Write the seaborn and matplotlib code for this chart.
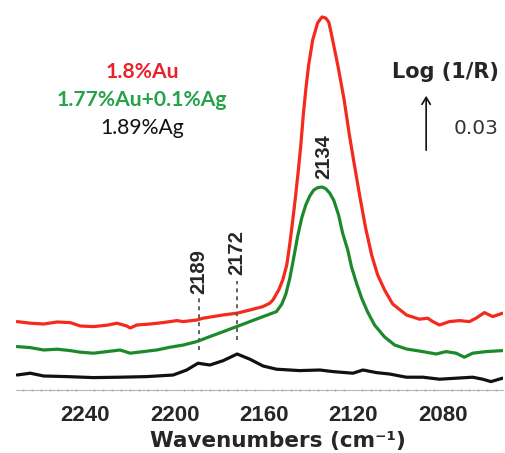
import numpy as np
import pandas as pd
import matplotlib
matplotlib.use("Agg")
import matplotlib.pyplot as plt
import seaborn as sns

# DRIFT spectra of adsorbed CO (Log(1/R), offset for clarity)
wn_au = [2270.5, 2264.6, 2258.6, 2252.6, 2246.7, 2242.2, 2236.3, 2230.3, 2225.8, 2221.4,
         2219.9, 2216.9, 2211.0, 2205.2, 2199.0, 2196.2, 2190.0, 2187.3, 2182.8, 2178.4,
         2172.1, 2166.3, 2160.5, 2157.4, 2156.0, 2153.4, 2151.6, 2149.8, 2148.5, 2147.1,
         2145.8, 2144.6, 2143.5, 2142.4, 2141.3, 2140.0, 2138.2, 2136.0, 2134.6, 2134.0,
         2132.4, 2131.0, 2129.9, 2126.8, 2124.1, 2121.9, 2119.9, 2117.2, 2114.5, 2111.8,
         2109.1, 2106.0, 2102.4, 2096.2, 2090.4, 2086.7, 2084.4, 2081.4, 2077.0, 2072.5,
         2068.0, 2065.1, 2061.3, 2057.6, 2053.2]
ab_au = [0.0342, 0.0334, 0.0330, 0.0340, 0.0337, 0.0320, 0.0317, 0.0324, 0.0334, 0.0320,
         0.0310, 0.0325, 0.0330, 0.0337, 0.0347, 0.0342, 0.0350, 0.0359, 0.0367, 0.0375,
         0.0384, 0.0400, 0.0417, 0.0434, 0.0450, 0.0500, 0.0550, 0.0625, 0.0725, 0.0850,
         0.0975, 0.1100, 0.1225, 0.1375, 0.1500, 0.1625, 0.1750, 0.1835, 0.1857, 0.1865,
         0.1860, 0.1840, 0.1785, 0.1615, 0.1450, 0.1285, 0.1150, 0.0975, 0.0810, 0.0675,
         0.0575, 0.0500, 0.0430, 0.0375, 0.0354, 0.0359, 0.0342, 0.0325, 0.0342, 0.0347,
         0.0342, 0.0359, 0.0387, 0.0367, 0.0384]

wn_auag = [2270.5, 2264.6, 2258.6, 2252.6, 2246.7, 2242.2, 2236.3, 2230.3, 2224.4, 2219.9,
           2214.0, 2208.0, 2202.0, 2196.1, 2190.1, 2184.2, 2178.2, 2172.2, 2166.3, 2160.4,
           2154.4, 2152.0, 2150.2, 2148.4, 2146.7, 2144.9, 2143.1, 2141.3, 2139.5, 2137.7,
           2135.9, 2134.0, 2132.4, 2130.6, 2128.8, 2126.6, 2124.8, 2122.5, 2120.8, 2118.6,
           2116.3, 2113.6, 2110.5, 2106.0, 2101.5, 2096.2, 2088.9, 2082.9, 2078.5, 2074.0,
           2070.3, 2066.6, 2060.6, 2053.2]
ab_auag = [0.0217, 0.0212, 0.0200, 0.0204, 0.0197, 0.0189, 0.0184, 0.0192, 0.0200, 0.0184,
           0.0192, 0.0200, 0.0214, 0.0225, 0.0242, 0.0267, 0.0292, 0.0317, 0.0342, 0.0367,
           0.0392, 0.0430, 0.0480, 0.0560, 0.0660, 0.0770, 0.0860, 0.0925, 0.0970, 0.1000,
           0.1012, 0.1015, 0.1007, 0.0985, 0.0950, 0.0875, 0.0785, 0.0700, 0.0615, 0.0535,
           0.0460, 0.0390, 0.0325, 0.0265, 0.0225, 0.0205, 0.0192, 0.0180, 0.0192, 0.0184,
           0.0164, 0.0184, 0.0192, 0.0197]

wn_ag = [2270.5, 2264.6, 2258.6, 2248.2, 2236.3, 2224.4, 2212.4, 2200.6, 2194.6, 2189.5,
         2187.3, 2184.2, 2178.2, 2172.0, 2166.3, 2160.4, 2154.4, 2144.0, 2135.0, 2129.1,
         2120.2, 2115.7, 2109.7, 2103.8, 2096.3, 2088.9, 2081.4, 2074.0, 2066.6, 2062.1,
         2058.4, 2053.2]
ab_ag = [0.0075, 0.0084, 0.0070, 0.0067, 0.0062, 0.0064, 0.0067, 0.0075, 0.0100, 0.0134,
         0.0130, 0.0125, 0.0147, 0.0180, 0.0154, 0.0120, 0.0104, 0.0097, 0.0100, 0.0092,
         0.0084, 0.0100, 0.0087, 0.0080, 0.0064, 0.0064, 0.0054, 0.0059, 0.0064, 0.0054,
         0.0042, 0.0059]

samples = ["1.8%Au", "1.77%Au+0.1%Ag", "1.89%Ag"]
line_colors = ["#f32a1c", "#1c8a2c", "#111111"]
text_colors = ["#e8212a", "#25a24a", "#111111"]

# band assignments (cm-1) and the span of their guide lines
band_pos = [2189, 2172]
band_lo = [0.0200, 0.0250]
band_hi = [0.0465, 0.0545]
main_band = 2134
scale_step = 0.03

df = pd.concat([
    pd.DataFrame({"wavenumber": w, "absorbance": a, "sample": s})
    for w, a, s in zip([wn_au, wn_auag, wn_ag], [ab_au, ab_auag, ab_ag], samples)
])

sns.set_style("white")
plt.rcParams["font.family"] = ["Liberation Sans", "DejaVu Sans"]

W, H = 506, 453
fig = plt.figure(figsize=(W / 100, H / 100), dpi=100)
ax = fig.add_axes([16 / W, 1 - 390 / H, 487 / W, 390 / H])

sns.lineplot(data=df, x="wavenumber", y="absorbance", hue="sample",
             palette=dict(zip(samples, line_colors)), estimator=None,
             linewidth=2.3, legend=False, ax=ax)

ax.set_xlim(2271, 2053)
ax.set_ylim(0, 0.195)

for spine in ["left", "right", "top"]:
    ax.spines[spine].set_visible(False)
ax.spines["bottom"].set_color("#b5b5b5")
ax.spines["bottom"].set_linewidth(0.8)
ax.set_yticks([])
ax.set_xticks([2240, 2200, 2160, 2120, 2080])
ax.set_xticks(np.arange(2268, 2052, -4), minor=True)
ax.tick_params(axis="x", which="major", direction="inout", length=3, width=1.6,
               color="#777777", pad=9, labelsize=16)
ax.tick_params(axis="x", which="minor", direction="inout", length=2, width=1.0,
               color="#aaaaaa", bottom=True)
for lab in ax.get_xticklabels():
    lab.set_fontweight("bold")
ax.set_xlabel("Wavenumbers (cm\u207b\u00b9)", fontsize=15.5, fontweight="bold",
              family="DejaVu Sans")
ax.xaxis.set_label_coords((277.5 - 16) / 487, -41 / 390)
ax.set_ylabel("")

# dashed guides for the Ag bands
for x, lo, hi in zip(band_pos, band_lo, band_hi):
    ax.plot([x, x], [lo, hi], ls=(0, (2.2, 2.2)), color="#555555", lw=1.3)
ax.text(band_pos[0], band_hi[0] + 0.0015, str(band_pos[0]), rotation=90, ha="center",
        va="bottom", fontsize=14.5, fontweight="bold")
ax.text(band_pos[1], band_hi[1] + 0.003, str(band_pos[1]), rotation=90, ha="center",
        va="bottom", fontsize=14.5, fontweight="bold")
ax.text(main_band - 0.8, 0.1055, str(main_band), rotation=90, ha="center", va="bottom",
        fontsize=14.5, fontweight="bold")

# scale bar
ax.annotate("", xy=(2087.4, 0.1185 + scale_step), xytext=(2087.4, 0.1185),
            arrowprops=dict(arrowstyle="->,head_length=0.5,head_width=0.3",
                            color="#111111", lw=1.2))
fig.text(445 / W, 1 - 72 / H, "Log (1/R)", ha="center", va="center",
         fontsize=15, fontweight="bold", family="DejaVu Sans")
fig.text(476 / W, 1 - 128 / H, "0.03", ha="center", va="center", fontsize=14.5,
         color="#333333", family="DejaVu Sans")

# sample labels
for name, col, y, wt in zip(samples, text_colors, [72, 100, 128], ["bold", "bold", "normal"]):
    fig.text(142 / W, 1 - y / H, name, ha="center", va="center", fontsize=15.2,
             fontweight=wt, color=col, family=["Lato", "DejaVu Sans"])

fig.savefig("out.png", dpi=100)
